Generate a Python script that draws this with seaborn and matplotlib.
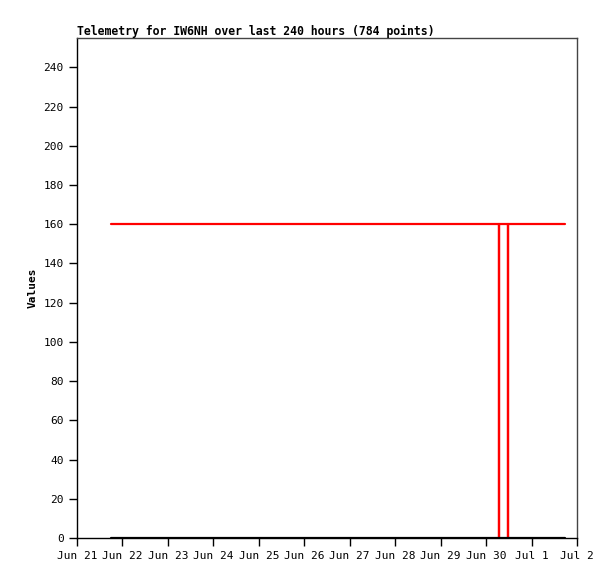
import matplotlib
matplotlib.use("Agg")
import matplotlib.pyplot as plt
import pandas as pd
import seaborn as sns

title = "Telemetry for IW6NH over last 240 hours (784 points)"
ylabel = "Values"

red_times = ["2024-06-21 17:45", "2024-06-30 06:50", "2024-06-30 06:50", "2024-06-30 06:50",
             "2024-06-30 11:20", "2024-06-30 11:20", "2024-06-30 11:20", "2024-07-01 17:45"]
red_values = [160, 160, 0, 160, 160, 0, 160, 160]

black_times = ["2024-06-21 17:45", "2024-07-01 17:45"]
black_values = [0, 0]

tick_days = pd.date_range("2024-06-21", "2024-07-02", freq="D")
tick_labels = ["Jun 21", "Jun 22", "Jun 23", "Jun 24", "Jun 25", "Jun 26", "Jun 27",
               "Jun 28", "Jun 29", "Jun 30", "Jul 1", "Jul 2"]
y_ticks = list(range(0, 241, 20))

sns.set_theme(style="white")
plt.rcParams['font.family'] = ['DejaVu Sans Mono', 'DejaVu Sans']

red_df = pd.DataFrame({"time": pd.to_datetime(red_times), "value": red_values})
black_df = pd.DataFrame({"time": pd.to_datetime(black_times), "value": black_values})

fig = plt.figure(figsize=(6.15, 5.79), dpi=100)
ax = fig.add_axes([77 / 615, 1 - 538 / 579, 500 / 615, 500 / 579])

sns.lineplot(data=red_df, x="time", y="value", estimator=None, sort=False,
             color="#ff0000", linewidth=1.6, ax=ax)
sns.lineplot(data=black_df, x="time", y="value", estimator=None, sort=False,
             color="#000000", linewidth=1.6, ax=ax)

ax.set_xlim(tick_days[0], tick_days[-1])
ax.set_ylim(0, 255)
ax.set_xticks(tick_days)
ax.set_xticklabels(tick_labels)
ax.set_yticks(y_ticks)
ax.set_yticklabels([str(v) for v in y_ticks])
ax.tick_params(axis="both", direction="out", length=5.5, width=1, color="black",
               labelsize=8, labelcolor="black", pad=4, bottom=True, left=True)
ax.set_xlabel("")
ax.set_ylabel(ylabel, fontsize=8, fontweight="bold", color="black", labelpad=4)
ax.set_title(title, loc="left", fontsize=8.3, fontweight="bold", color="black", pad=2)

for side in ["left", "bottom"]:
    ax.spines[side].set_color("black")
    ax.spines[side].set_linewidth(1)
for side in ["top", "right"]:
    ax.spines[side].set_color("#444444")
    ax.spines[side].set_linewidth(1)
ax.grid(False)

fig.savefig("out.png", dpi=100, facecolor="white")
